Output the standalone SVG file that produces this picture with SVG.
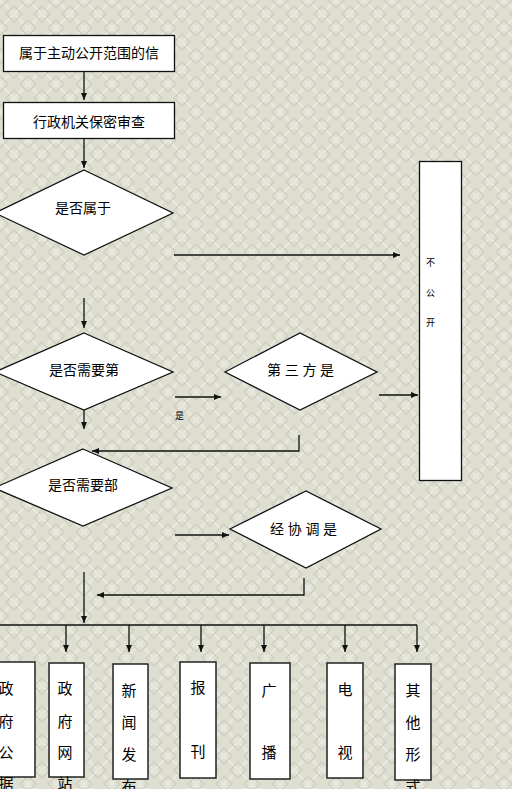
<svg xmlns="http://www.w3.org/2000/svg" width="512" height="789" viewBox="0 0 512 789">
<defs>
<pattern id="bg" width="28" height="28" patternUnits="userSpaceOnUse">
<rect width="28" height="28" fill="#DEDED1"/>
<path d="M0 0 L28 28 M28 0 L0 28" stroke="#E9E9DF" stroke-width="2.2"/>
<path d="M14 6 L22 14 L14 22 L6 14 Z" fill="none" stroke="#D1D1C3" stroke-width="1.6"/>
<circle cx="14" cy="14" r="2.4" fill="none" stroke="#E6E6DB" stroke-width="1.2"/>
<path d="M0 -8 L8 0 L0 8 M28 -8 L20 0 L28 8 M0 20 L8 28 L0 36 M28 20 L20 28 L28 36" fill="none" stroke="#D1D1C3" stroke-width="1.6"/>
<circle cx="0" cy="0" r="2.4" fill="none" stroke="#E6E6DB" stroke-width="1.2"/>
<circle cx="28" cy="0" r="2.4" fill="none" stroke="#E6E6DB" stroke-width="1.2"/>
<circle cx="0" cy="28" r="2.4" fill="none" stroke="#E6E6DB" stroke-width="1.2"/>
<circle cx="28" cy="28" r="2.4" fill="none" stroke="#E6E6DB" stroke-width="1.2"/>
</pattern>
<marker id="ah" markerWidth="8" markerHeight="8" refX="7" refY="4" orient="auto" markerUnits="userSpaceOnUse">
<path d="M0 1 L7 4 L0 7 Z" fill="#111"/>
</marker>
<style>
.box{fill:#fff;stroke:#111;stroke-width:1.3}
.bbox{fill:#fff;stroke:#222;stroke-width:1.5}
.t{font-family:"Noto Sans CJK SC","Noto Sans",sans-serif;font-size:14px;fill:#000}
.tb{font-family:"Noto Sans CJK SC","Noto Sans",sans-serif;font-size:15px;fill:#000;text-anchor:middle}
.ts{font-family:"Noto Sans CJK SC","Noto Sans",sans-serif;font-size:9px;fill:#000}
.c{text-anchor:middle}
.ln{fill:none;stroke:#111;stroke-width:1.3}
.ar{fill:none;stroke:#111;stroke-width:1.3;marker-end:url(#ah)}
</style>
</defs>
<rect width="512" height="789" fill="url(#bg)"/>

<g id="connectors">
<line class="ar" x1="84" y1="71" x2="84" y2="100"/>
<line class="ar" x1="84" y1="139" x2="84" y2="168"/>
<line class="ar" x1="174" y1="255" x2="400" y2="255"/>
<line class="ar" x1="84" y1="298" x2="84" y2="328"/>
<line class="ar" x1="175" y1="397" x2="221" y2="397"/>
<line class="ar" x1="379" y1="395" x2="418" y2="395"/>
<line class="ar" x1="84" y1="400" x2="84" y2="429"/>
<polyline class="ar" points="299,435 299,451 92,451"/>
<line class="ar" x1="175" y1="535" x2="229" y2="535"/>
<polyline class="ar" points="304,578 304,595 97,595"/>
<line class="ar" x1="84" y1="572" x2="84" y2="623"/>
<line class="ln" x1="0" y1="625" x2="417" y2="625"/>
<line class="ar" x1="66" y1="625" x2="66" y2="652"/>
<line class="ar" x1="129" y1="625" x2="129" y2="652"/>
<line class="ar" x1="201" y1="625" x2="201" y2="652"/>
<line class="ar" x1="264" y1="625" x2="264" y2="652"/>
<line class="ar" x1="345" y1="625" x2="345" y2="652"/>
<line class="ar" x1="417" y1="625" x2="417" y2="652"/>
<text class="ts" x="175" y="419" font-size="10">是</text>
</g>

<g id="n1">
<rect class="box" x="3.5" y="35.5" width="171" height="36"/>
<text class="t c" x="89" y="58">属于主动公开范围的信</text>
</g>
<g id="n2">
<rect class="box" x="3.5" y="102.5" width="171" height="36"/>
<text class="t c" x="89" y="127">行政机关保密审查</text>
</g>
<g id="d1">
<polygon class="box" points="84,170 173,213 84,255 -5,213"/>
<text class="t c" x="83" y="213">是否属于</text>
</g>
<g id="nopen">
<rect class="box" x="419.5" y="161.5" width="42" height="319"/>
<text class="ts" x="426" y="266">不</text>
<text class="ts" x="426" y="296">公</text>
<text class="ts" x="426" y="326">开</text>
</g>
<g id="d2">
<polygon class="box" points="84,333 173,372 84,410 -5,372"/>
<text class="t c" x="84" y="375">是否需要第</text>
</g>
<g id="d3">
<polygon class="box" points="225,372 300,333 377,372 300,410"/>
<text class="t" x="267 284.7 302.4 320" y="375">第三方是</text>
</g>
<g id="d4">
<polygon class="box" points="83,449 172,488 83,526 -6,488"/>
<text class="t c" x="83" y="490">是否需要部</text>
</g>
<g id="d5">
<polygon class="box" points="230,529 306,491 381,529 306,568"/>
<text class="t" x="270 287.7 305.4 323" y="534">经协调是</text>
</g>

<g id="b1">
<rect class="bbox" x="-5" y="662" width="40" height="115"/>
<text class="tb" x="6" y="694">政</text>
<text class="tb" x="6" y="727">府</text>
<text class="tb" x="6" y="758">公</text>
<text class="tb" x="6" y="789">据</text>
</g>
<g id="b2">
<rect class="bbox" x="49" y="663" width="35" height="114"/>
<text class="tb" x="65" y="694">政</text>
<text class="tb" x="65" y="727">府</text>
<text class="tb" x="65" y="758">网</text>
<text class="tb" x="65" y="789">站</text>
</g>
<g id="b3">
<rect class="bbox" x="113" y="664" width="35" height="115"/>
<text class="tb" x="129" y="696">新</text>
<text class="tb" x="129" y="728">闻</text>
<text class="tb" x="129" y="760">发</text>
<text class="tb" x="129" y="792">布</text>
</g>
<g id="b4">
<rect class="bbox" x="180" y="662" width="36" height="116"/>
<text class="tb" x="198" y="693">报</text>
<text class="tb" x="198" y="757">刊</text>
</g>
<g id="b5">
<rect class="bbox" x="250" y="663" width="40" height="116"/>
<text class="tb" x="269" y="696">广</text>
<text class="tb" x="269" y="758">播</text>
</g>
<g id="b6">
<rect class="bbox" x="327" y="663" width="36" height="115"/>
<text class="tb" x="345" y="695">电</text>
<text class="tb" x="345" y="758">视</text>
</g>
<g id="b7">
<rect class="bbox" x="395" y="664" width="36" height="116"/>
<text class="tb" x="413" y="696">其</text>
<text class="tb" x="413" y="728">他</text>
<text class="tb" x="413" y="760">形</text>
<text class="tb" x="413" y="792">式</text>
</g>
</svg>
